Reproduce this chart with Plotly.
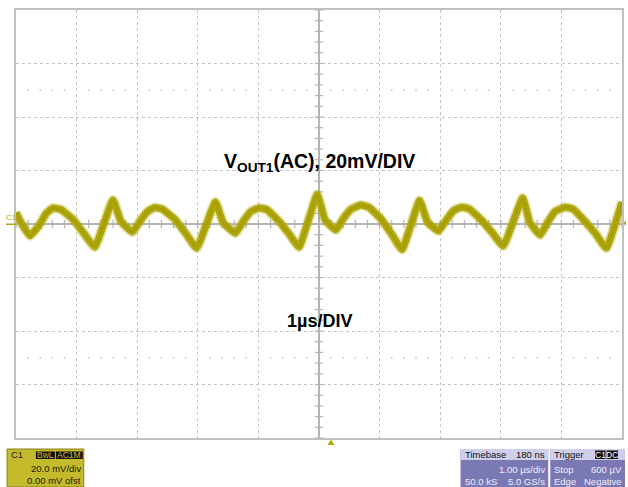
import plotly.graph_objects as go
import numpy as np

# waveform key points (time in µs, voltage in mV)
t_us = [-5.00, -4.93, -4.77, -4.62, -4.50, -4.39, -4.25, -4.05, -3.88, -3.70,
        -3.40, -3.27, -3.08, -2.95, -2.83, -2.71, -2.58, -2.38, -2.20, -2.02,
        -1.71, -1.58, -1.38, -1.25, -1.13, -0.99, -0.86, -0.66, -0.49, -0.33,
        -0.03, 0.10, 0.28, 0.40, 0.53, 0.69, 0.82, 1.02, 1.20, 1.37,
        1.66, 1.79, 1.97, 2.10, 2.22, 2.35, 2.48, 2.68, 2.86, 3.04,
        3.36, 3.48, 3.65, 3.77, 3.89, 4.06, 4.19, 4.39, 4.57, 4.74, 5.00]
v_mv = [4.3, 1.0, -4.4, -0.5, 4.0, 6.0, 5.3, 1.5, -3.5, -8.6,
        9.0, 1.0, -3.0, 1.2, 4.6, 6.2, 5.5, 1.8, -3.5, -9.0,
        8.2, 0.5, -3.4, 1.0, 4.6, 6.0, 5.4, 1.0, -3.8, -8.6,
        11.0, 1.5, -2.2, 2.0, 5.5, 7.1, 6.3, 2.0, -3.8, -9.5,
        8.8, 0.8, -2.6, 1.5, 5.0, 6.3, 5.6, 1.5, -3.3, -8.2,
        9.7, 0.5, -4.1, 0.5, 4.6, 6.3, 5.6, 1.0, -3.8, -9.0, 8.2]

title_text = "V<sub>OUT1</sub>(AC), 20mV/DIV"
time_text = "1µs/DIV"

W, H = 628, 487
L, R, T, B = 16, 624, 9.5, 438

def px(x):
    return (x - L) / (R - L)

def py(y):
    return (B - y) / (B - T)

TRACE = "#b0a80a"
GRID = "#c4c4c4"
AXC = "#b4b4b4"

fig = go.Figure()

# minor ticks along centre axes
minor_x = [x for x in np.round(np.arange(-5, 5.001, 0.2), 2) if abs(x) > 1e-9]
minor_y = [y for y in np.round(np.arange(-80, 80.001, 4), 2) if abs(y) > 1e-9]
fig.add_trace(go.Scatter(x=minor_x, y=[0] * len(minor_x), mode="markers",
                         marker=dict(symbol="line-ns", size=6, line=dict(color=AXC, width=1.2)),
                         hoverinfo="skip", showlegend=False))
fig.add_trace(go.Scatter(x=[0] * len(minor_y), y=minor_y, mode="markers",
                         marker=dict(symbol="line-ew", size=6, line=dict(color=AXC, width=1.2)),
                         hoverinfo="skip", showlegend=False))
# dotted rows at +/-2.5 div
dot_x = [x for x in np.round(np.arange(-5, 5.001, 0.2), 2) if abs(x - round(x)) > 1e-6]
for yy in (50, -50):
    fig.add_trace(go.Scatter(x=dot_x, y=[yy] * len(dot_x), mode="markers",
                             marker=dict(symbol="square", size=1.6, color="#c8c8c8"),
                             hoverinfo="skip", showlegend=False))

# fuzzy band + core line
fig.add_trace(go.Scatter(x=t_us, y=v_mv, mode="lines",
                         line=dict(color=TRACE, width=10, shape="spline", smoothing=0.35),
                         opacity=0.35, hoverinfo="skip", showlegend=False))
fig.add_trace(go.Scatter(x=t_us, y=v_mv, mode="lines",
                         line=dict(color=TRACE, width=7, shape="spline", smoothing=0.35),
                         hoverinfo="skip", showlegend=False))
fig.add_trace(go.Scatter(x=t_us, y=v_mv, mode="lines",
                         line=dict(color="#969006", width=2, shape="spline", smoothing=0.35),
                         opacity=0.45, hoverinfo="skip", showlegend=False))

fig.update_xaxes(range=[-5, 5], dtick=1, showgrid=True, gridcolor=GRID, griddash="dot",
                 gridwidth=1, zeroline=True, zerolinecolor=AXC, zerolinewidth=1.5,
                 showticklabels=False, ticks="", showline=True, mirror=True,
                 linecolor="#c0c0c0", linewidth=2, fixedrange=True)
fig.update_yaxes(range=[-80, 80], dtick=20, showgrid=True, gridcolor=GRID, griddash="dot",
                 gridwidth=1, zeroline=True, zerolinecolor=AXC, zerolinewidth=1.5,
                 showticklabels=False, ticks="", showline=True, mirror=True,
                 linecolor="#c0c0c0", linewidth=2, fixedrange=True)

ann = []
shapes = []
FONT = "Liberation Sans, Arial, sans-serif"

ann.append(dict(x=px(321), y=py(162), xref="paper", yref="paper", text="<b>" + title_text + "</b>",
                showarrow=False, font=dict(family=FONT, size=19.5, color="black"),
                xanchor="center", yanchor="middle"))
ann.append(dict(x=px(320), y=py(321), xref="paper", yref="paper", text="<b>" + time_text + "</b>",
                showarrow=False, font=dict(family=FONT, size=18, color="black"),
                xanchor="center", yanchor="middle"))

# C1 marker on left
ann.append(dict(x=px(11), y=py(217), xref="paper", yref="paper", text="C1", showarrow=False,
                font=dict(family=FONT, size=8, color=TRACE), xanchor="center", yanchor="middle"))
shapes.append(dict(type="line", xref="paper", yref="paper", x0=px(6), x1=px(16), y0=py(224), y1=py(224),
                   line=dict(color=TRACE, width=1.5)))
# right trigger level arrow
shapes.append(dict(type="path", xref="paper", yref="paper",
                   path=f"M {px(625)} {py(223)} L {px(628)} {py(220.5)} L {px(628)} {py(225.5)} Z",
                   fillcolor=TRACE, line=dict(width=0)))
# bottom trigger position arrow
shapes.append(dict(type="path", xref="paper", yref="paper",
                   path=f"M {px(332)} {py(439.5)} L {px(328.5)} {py(445)} L {px(335.5)} {py(445)} Z",
                   fillcolor=TRACE, line=dict(width=0)))

def box(x0, y0, x1, y1, fill, line=None):
    shapes.append(dict(type="rect", xref="paper", yref="paper", x0=px(x0), x1=px(x1),
                       y0=py(y1), y1=py(y0), fillcolor=fill,
                       line=dict(width=1 if line else 0, color=line or fill)))

def txt(x, y, s, color, anchor="left", size=9.5):
    ann.append(dict(x=px(x), y=py(y), xref="paper", yref="paper", text=s, showarrow=False,
                    font=dict(family=FONT, size=size, color=color), xanchor=anchor, yanchor="middle"))

# C1 channel panel
box(7, 449, 84, 487, "#c3bb2c", "#8a8420")
txt(9, 455, "C1", "#202000")
box(36, 451.5, 55, 459, "#111111")
box(56, 451.5, 83, 459, "#111111")
txt(45.5, 455.5, "BwL", "#c3bb2c", "center", 8.5)
txt(69.5, 455.5, "AC1M", "#c3bb2c", "center", 8.5)
txt(83, 469, "20.0 mV/div", "#202000", "right")
txt(83, 481, "0.00 mV ofst", "#202000", "right")

# Timebase panel
box(462, 449, 550, 487, "#7b79b3")
box(462, 449, 550, 460, "#cfcfeb")
txt(464, 454.5, "Timebase", "#111111")
txt(549, 454.5, "180 ns", "#111111", "right")
txt(549, 470, "1.00 µs/div", "#eeeeff", "right")
txt(464, 481.5, "50.0 kS", "#eeeeff")
txt(549, 481.5, "5.0 GS/s", "#eeeeff", "right")

# Trigger panel
box(552, 449, 627, 487, "#7b79b3")
box(552, 449, 627, 460, "#cfcfeb")
txt(554, 454.5, "Trigger", "#111111")
box(597, 450.5, 607.5, 459, "#111111")
box(608.5, 450.5, 620, 459, "#111111")
txt(602.2, 455, "C1", "#ffffff", "center", 8.5)
txt(614.2, 455, "DC", "#ffffff", "center", 8.5)
txt(554, 470, "Stop", "#eeeeff")
txt(626, 470, "600 µV", "#eeeeff", "right")
txt(554, 481.5, "Edge", "#eeeeff")
txt(626, 481.5, "Negative", "#eeeeff", "right")

fig.update_layout(width=W, height=H, margin=dict(l=L, r=W - R, t=T, b=H - B),
                  paper_bgcolor="white", plot_bgcolor="white",
                  annotations=ann, shapes=shapes, showlegend=False)

fig.write_html("out.html", config={"displayModeBar": False},
               post_script="document.body.style.margin='0';document.body.style.overflow='hidden';")
